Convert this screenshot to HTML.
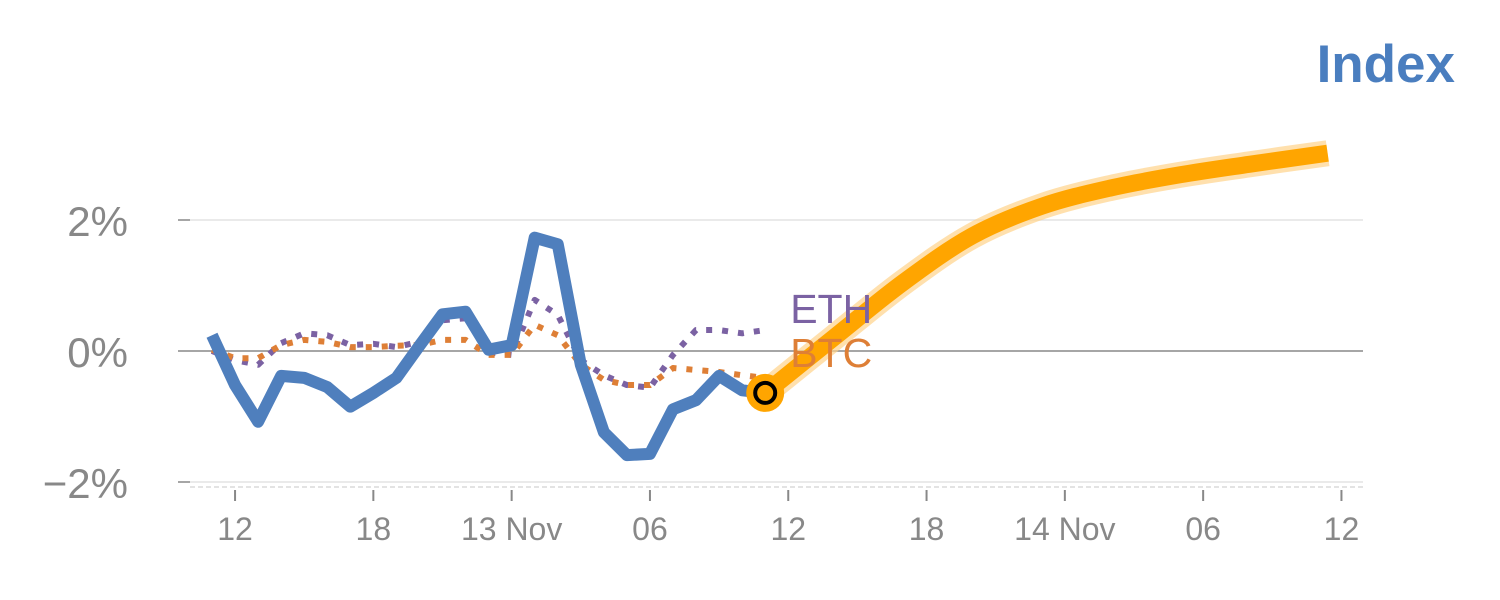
<!DOCTYPE html>
<html><head><meta charset="utf-8"><style>
html,body{margin:0;padding:0;background:#fff;}
svg{display:block;font-family:"Liberation Sans",Arial,sans-serif;}
</style></head><body>
<svg id="chart" width="1500" height="600" viewBox="0 0 1500 600">
<text x="1455" y="82" text-anchor="end" font-size="53" font-weight="bold" fill="#4a7ebf">Index</text>
<g id="grid"></g>
<g id="series"></g>
</svg>
<script>
const yTicks = [2, 0, -2];
const yTickLabels = ["2%", "0%", "\u22122%"];
const xTickHours = [1, 7, 13, 19, 25, 31, 37, 43, 49];
const xTickLabels = ["12", "18", "13 Nov", "06", "12", "18", "14 Nov", "06", "12"];
const indexValues = [0.24,-0.52,-1.08,-0.38,-0.41,-0.55,-0.85,-0.64,-0.41,0.08,0.56,0.6,0.02,0.09,1.73,1.63,-0.21,-1.24,-1.59,-1.57,-0.89,-0.75,-0.38,-0.6,-0.64];
const ethValues = [0,-0.14,-0.21,0.12,0.27,0.24,0.09,0.11,0.06,0.14,0.47,0.5,-0.02,-0.06,0.78,0.55,-0.14,-0.37,-0.52,-0.56,-0.06,0.32,0.32,0.27,0.32];
const btcValues = [0.02,-0.11,-0.11,0.09,0.17,0.14,0.06,0.06,0.08,0.09,0.17,0.17,-0.06,-0.06,0.4,0.24,-0.21,-0.44,-0.52,-0.52,-0.26,-0.29,-0.32,-0.37,-0.41];
const forecastHours = [24,27,30,33,36,39,42,45,48.4];
const forecastValues = [-0.64,0.21,1.05,1.76,2.21,2.49,2.69,2.85,3.02];

const NS = "http://www.w3.org/2000/svg";
const x = h => 212 + h * 23.05;
const y = v => 351 - v * 65.5;
function mk(tag, attrs, parent){ const e=document.createElementNS(NS,tag); for(const k in attrs) e.setAttribute(k,attrs[k]); parent.appendChild(e); return e; }
const grid = document.getElementById('grid');
const series = document.getElementById('series');

yTicks.forEach((t,i)=>{
  const ln = mk('line',{x1:190,x2:1363,y1:y(t),y2:y(t),stroke:t===0?'#888':'#e3e3e3','stroke-width':1.5},grid);
  
  
  const tk = mk('line',{x1:178,x2:190,y1:y(t),y2:y(t),stroke:'#888','stroke-width':1.5},grid);
  
  
  const tx = mk('text',{x:128,y:y(t)+16,'text-anchor':'end','font-size':42,fill:'#888'},grid);
  tx.textContent = yTickLabels[i];
  
  
});
const base = mk('line',{x1:190,x2:1363,y1:487,y2:487,stroke:'#e3e3e3','stroke-width':2,'stroke-dasharray':'5,3'},grid);


xTickHours.forEach((h,i)=>{
  const tk = mk('line',{x1:x(h),x2:x(h),y1:490,y2:501,stroke:'#888','stroke-width':2},grid);
  
  
  const tx = mk('text',{x:x(h),y:540,'text-anchor':'middle','font-size':32,fill:'#888'},grid);
  tx.textContent = xTickLabels[i];
  
  
});
function pts(vals, hrs){ return vals.map((v,i)=>x(hrs?hrs[i]:i)+','+y(v)).join(' '); }
function smooth(vals, hrs){
  const p = vals.map((v,i)=>[x(hrs[i]),y(v)]);
  let d = 'M'+p[0][0]+','+p[0][1];
  for(let i=0;i<p.length-1;i++){
    const p0=p[Math.max(0,i-1)],p1=p[i],p2=p[i+1],p3=p[Math.min(p.length-1,i+2)];
    const c1=[p1[0]+(p2[0]-p0[0])/6,p1[1]+(p2[1]-p0[1])/6];
    const c2=[p2[0]-(p3[0]-p1[0])/6,p2[1]-(p3[1]-p1[1])/6];
    d+=' C'+c1+' '+c2+' '+p2;
  }
  return d;
}

const eth = mk('polyline',{points:pts(ethValues),fill:'none',stroke:'#7b62a3','stroke-width':6,'stroke-dasharray':'6,10','stroke-linejoin':'round'},series);


const btc = mk('polyline',{points:pts(btcValues),fill:'none',stroke:'#de7f36','stroke-width':6,'stroke-dasharray':'6,10','stroke-linejoin':'round'},series);


const idx = mk('polyline',{points:pts(indexValues),fill:'none',stroke:'#4f7fbd','stroke-width':12,'stroke-linejoin':'round'},series);


const halo = mk('path',{d:smooth(forecastValues,forecastHours),fill:'none',stroke:'#ffd38a','stroke-opacity':0.7,'stroke-width':26,'stroke-linejoin':'round'},series);


const fc = mk('path',{d:smooth(forecastValues,forecastHours),fill:'none',stroke:'#ffa500','stroke-width':17,'stroke-linejoin':'round'},series);


const last = indexValues.length-1;
const c1 = mk('circle',{cx:x(last),cy:y(indexValues[last]),r:19,fill:'#ffa500'},series);


const c2 = mk('circle',{cx:x(last),cy:y(indexValues[last]),r:10,fill:'none',stroke:'#000','stroke-width':4},series);


const le = mk('text',{x:x(last)+25,y:y(ethValues[last])-7,'font-size':41,fill:'#7b62a3'},series);
le.textContent='ETH';


const lb = mk('text',{x:x(last)+25,y:y(btcValues[last])-11,'font-size':41,fill:'#de7f36'},series);
lb.textContent='BTC';


</script>
</body></html>
